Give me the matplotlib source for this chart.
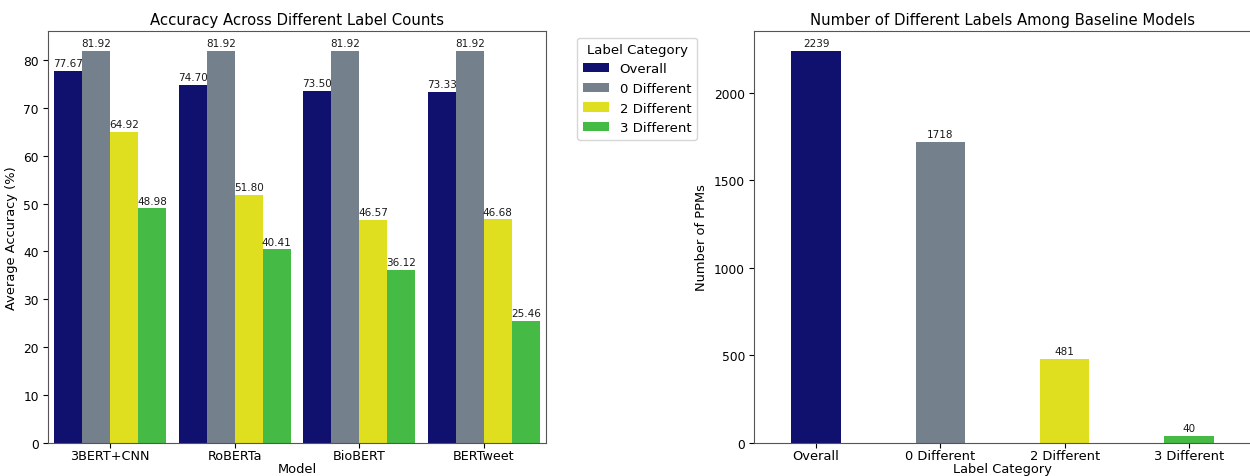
import numpy as np
import matplotlib as mpl
mpl.use('Agg')
import matplotlib.pyplot as plt

models = ['3BERT+CNN', 'RoBERTa', 'BioBERT', 'BERTweet']
categories = ['Overall', '0 Different', '2 Different', '3 Different']
overall_acc = [77.67, 74.70, 73.50, 73.33]
zero_diff_acc = [81.92, 81.92, 81.92, 81.92]
two_diff_acc = [64.92, 51.80, 46.57, 46.68]
three_diff_acc = [48.98, 40.41, 36.12, 25.46]
ppm_counts = [2239, 1718, 481, 40]

# navy / slategray / yellow / limegreen, desaturated a bit
colors = ['#10106f', '#74808c', '#dfdf20', '#45ba45']

fig = plt.figure(figsize=(12.5, 4.77), dpi=100)
ax1 = fig.add_axes([0.0384, 0.0692, 0.3984, 0.8637])
ax2 = fig.add_axes([0.6032, 0.0692, 0.3976, 0.8637])

# left: grouped bars per model
x = np.arange(len(models))
group_width = 0.9
bw = group_width / len(categories)
series = [overall_acc, zero_diff_acc, two_diff_acc, three_diff_acc]
for i, (name, vals) in enumerate(zip(categories, series)):
    pos = x - group_width / 2 + bw * (i + 0.5)
    bars = ax1.bar(pos, vals, width=bw, color=colors[i], label=name)
    ax1.bar_label(bars, fmt='%.2f', padding=2, fontsize=7.5, color='#1a1a1a')

ax1.set_xticks(x)
ax1.set_xticklabels(models, fontsize=9.2)
ax1.set_xlim(-0.5, len(models) - 0.5)
ax1.set_ylim(0, max(zero_diff_acc) * 1.05)
ax1.set_xlabel('Model', fontsize=9.4, labelpad=0)
ax1.set_ylabel('Average Accuracy (%)', fontsize=9.4)
ax1.set_title('Accuracy Across Different Label Counts', fontsize=10.7, pad=5)
ax1.legend(title='Label Category', bbox_to_anchor=(1.05, 1), loc='upper left',
           fontsize=9.5, title_fontsize=9.5, handlelength=2.0)

# right: count of PPMs per category
x2 = np.arange(len(categories))
bars = ax2.bar(x2, ppm_counts, width=0.4, color=colors)
ax2.bar_label(bars, padding=2, fontsize=7.5, color='#1a1a1a')
ax2.set_xticks(x2)
ax2.set_xticklabels(categories, fontsize=9.4)
ax2.set_xlim(-0.5, len(categories) - 0.5)
ax2.set_ylim(0, max(ppm_counts) * 1.05)
ax2.set_yticks([0, 500, 1000, 1500, 2000])
ax2.set_xlabel('Label Category', fontsize=9.4, labelpad=0)
ax2.set_ylabel('Number of PPMs', fontsize=9.4)
ax2.set_title('Number of Different Labels Among Baseline Models', fontsize=10.7, pad=5)

for ax in (ax1, ax2):
    ax.tick_params(axis='y', labelsize=8.8, length=3.5, pad=3)
    ax.tick_params(axis='x', length=3.5, pad=1)
    for sp in ax.spines.values():
        sp.set_color('#555555')

plt.savefig('out.png', dpi=100)
